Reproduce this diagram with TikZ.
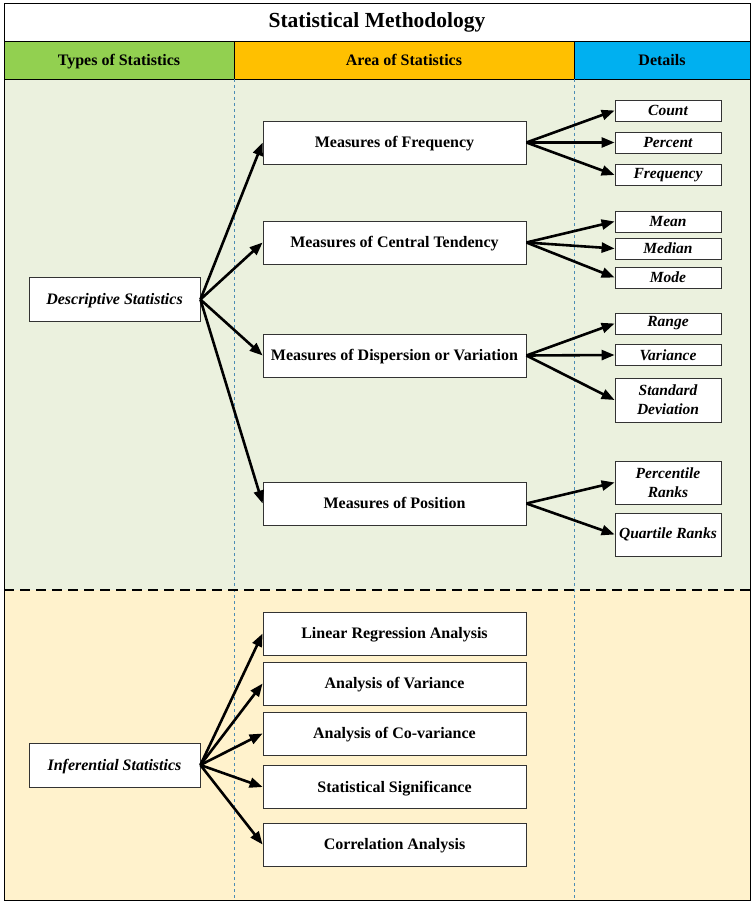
\documentclass[tikz,border=0pt]{standalone}
\usepackage{fontspec}
\setmainfont{Liberation Serif}
\usetikzlibrary{arrows.meta}

\definecolor{hdgreen}{RGB}{146,208,80}
\definecolor{hdorange}{RGB}{255,192,0}
\definecolor{hdblue}{RGB}{0,176,240}
\definecolor{bgdesc}{RGB}{235,241,222}
\definecolor{bginf}{RGB}{255,242,204}
\definecolor{colline}{RGB}{75,140,180}

\tikzset{
  areabox/.style={draw=black!80, fill=white, line width=0.8pt, minimum width=263pt, minimum height=43pt, text height=11pt, text depth=0.5pt, font=\fontsize{16}{18}\selectfont\bfseries},
  typebox/.style={draw=black!80, fill=white, line width=0.8pt, minimum width=171pt, minimum height=44pt, text height=11pt, text depth=0.5pt, font=\fontsize{16}{18}\selectfont\bfseries\itshape},
  detailbox/.style={draw=black!80, fill=white, line width=0.8pt, minimum width=106pt, minimum height=21pt, inner sep=1pt, align=center, font=\fontsize{15.5}{19}\selectfont\bfseries\itshape},
  hdtext/.style={font=\fontsize{16}{18}\selectfont\bfseries, text height=11pt, text depth=0.5pt},
  link/.style={-{Triangle[length=13pt, width=10pt]}, line width=2.6pt, black}
}

\begin{document}
\begin{tikzpicture}[x=1pt, y=-1pt]

  \useasboundingbox (0,0) rectangle (754,904);

  % Backgrounds
  \fill[white] (0,0) rectangle (754,904);
  \fill[bgdesc] (4,79) rectangle (750,590);
  \fill[bginf] (4,590) rectangle (750,900);

  % Header
  \fill[hdgreen] (4,41) rectangle (234,79);
  \fill[hdorange] (234,41) rectangle (574,79);
  \fill[hdblue] (574,41) rectangle (750,79);
  \draw[line width=0.8pt] (4,41) -- (750,41);
  \draw[line width=0.8pt] (4,79) -- (750,79);
  \draw[line width=0.8pt] (234,41) -- (234,79);
  \draw[line width=0.8pt] (574,41) -- (574,79);
  \node[font=\fontsize{21.5}{24}\selectfont\bfseries] (title) at (377,22) {Statistical Methodology};
  \node[hdtext] (htypes) at (119,60) {Types of Statistics};
  \node[hdtext] (harea) at (404,60) {Area of Statistics};
  \node[hdtext] (hdet) at (662,60) {Details};

  % Column lines
  \draw[colline, dashed, line width=0.6pt] (234,79) -- (234,900);
  \draw[colline, dashed, line width=0.6pt] (574,79) -- (574,900);

  % Separator
  \draw[dash pattern=on 10pt off 6pt, line width=1.8pt] (4,590) -- (750,590);

  % Frame
  \draw[line width=1pt] (4,4) rectangle (750,900);

  % Descriptive
  \node[typebox] (desc) at (114.5,299.5) {Descriptive Statistics};
  \node[areabox] (freq) at (394.5,142.5) {Measures of Frequency};
  \node[areabox] (central) at (394.5,242.5) {Measures of Central Tendency};
  \node[areabox] (disp) at (394.5,355.5) {Measures of Dispersion or Variation};
  \node[areabox] (pos) at (394.5,503.5) {Measures of Position};

  \node[detailbox] (count) at (668,110.5) {Count};
  \node[detailbox] (percent) at (668,142.5) {Percent};
  \node[detailbox] (frequency) at (668,175) {Frequency};
  \node[detailbox] (mean) at (668,221.5) {Mean};
  \node[detailbox] (median) at (668,248.5) {Median};
  \node[detailbox] (mode) at (668,277.5) {Mode};
  \node[detailbox] (range) at (668,323.5) {Range};
  \node[detailbox] (variance) at (668,355) {Variance};
  \node[detailbox, minimum height=44pt] (stdev) at (668,400) {Standard\\Deviation};
  \node[detailbox, minimum height=43pt] (perc) at (668,482.5) {Percentile\\Ranks};
  \node[detailbox, minimum height=43pt] (quart) at (668,534.5) {Quartile Ranks};

  \draw[link] (desc.east) -- (freq.west);
  \draw[link] (desc.east) -- (central.west);
  \draw[link] (desc.east) -- (disp.west);
  \draw[link] (desc.east) -- (pos.west);

  \draw[link] (freq.east) -- (count.west);
  \draw[link] (freq.east) -- (percent.west);
  \draw[link] (freq.east) -- (frequency.west);
  \draw[link] (central.east) -- (mean.west);
  \draw[link] (central.east) -- (median.west);
  \draw[link] (central.east) -- (mode.west);
  \draw[link] (disp.east) -- (range.west);
  \draw[link] (disp.east) -- (variance.west);
  \draw[link] (disp.east) -- (stdev.west);
  \draw[link] (pos.east) -- (perc.west);
  \draw[link] (pos.east) -- (quart.west);

  % Inferential
  \node[typebox] (infer) at (114.5,765) {Inferential Statistics};
  \node[areabox] (linreg) at (394.5,633.5) {Linear Regression Analysis};
  \node[areabox] (anova) at (394.5,683.5) {Analysis of Variance};
  \node[areabox] (ancova) at (394.5,733.5) {Analysis of Co-variance};
  \node[areabox] (signif) at (394.5,787) {Statistical Significance};
  \node[areabox] (corr) at (394.5,844.5) {Correlation Analysis};

  \draw[link] (infer.east) -- (linreg.west);
  \draw[link] (infer.east) -- (anova.west);
  \draw[link] (infer.east) -- (ancova.west);
  \draw[link] (infer.east) -- (signif.west);
  \draw[link] (infer.east) -- (corr.west);

\end{tikzpicture}
\end{document}
